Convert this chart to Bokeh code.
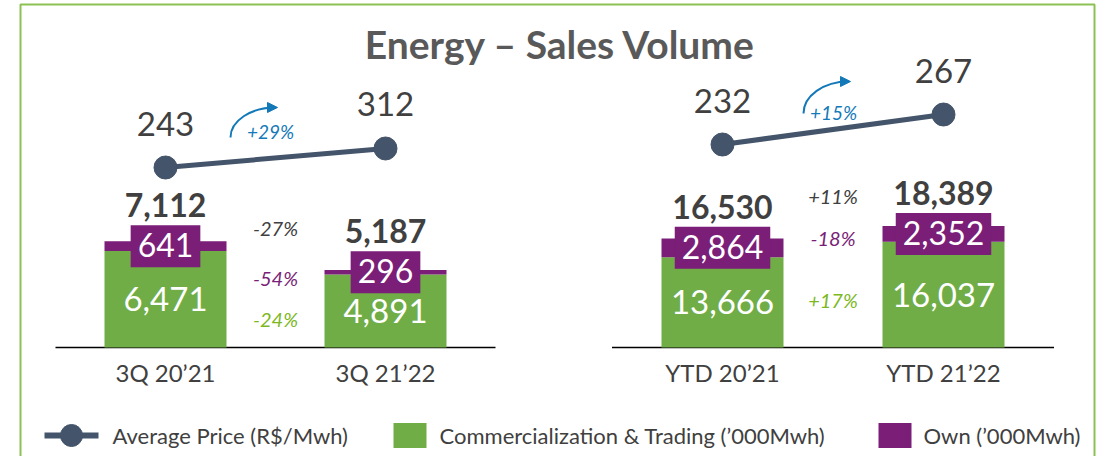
from bokeh.plotting import figure
from bokeh.models import Range1d, ColumnDataSource, Arrow, NormalHead, BoxAnnotation
from bokeh.core.properties import value
from bokeh.embed import file_html
from bokeh.resources import INLINE

# ---------------- data ----------------
title = "Energy – Sales Volume"

cats_q = ["3Q 20’21", "3Q 21’22"]
comm_q = [6471, 4891]
own_q = [641, 296]
total_q = [7112, 5187]
price_q = [243, 312]
chg_q = ["-27%", "-54%", "-24%"]          # total, own, commercialization
price_chg_q = "+29%"

cats_y = ["YTD 20’21", "YTD 21’22"]
comm_y = [13666, 16037]
own_y = [2864, 2352]
total_y = [16530, 18389]
price_y = [232, 267]
chg_y = ["+11%", "-18%", "+17%"]
price_chg_y = "+15%"

legend_labels = ["Average Price (R$/Mwh)",
                 "Commercialization & Trading (’000Mwh)",
                 "Own (’000Mwh)"]

# ---------------- style ----------------
W, H = 1097, 456
FONT = value("Lato")
GREEN = "#70AD47"
PURPLE = "#7A1E78"
SLATE = "#44546A"
DARK = "#404040"
LIME = "#7DB81E"
BLUE = "#1479B8"
BORDER = "#8CC152"
BASE = H - 347  # baseline height in px from bottom


def px(x):
    return x


def py(y):
    return H - y


def lin_range(anchor_px, anchor_val, per_px, size):
    start = anchor_val - anchor_px * per_px
    return Range1d(start=start, end=start + size * per_px)


p = figure(width=W, height=H, output_backend="svg", toolbar_location=None,
           x_range=Range1d(0, W), y_range=Range1d(0, H),
           x_axis_location=None, y_axis_location=None, min_border=0)
p.xgrid.visible = False
p.ygrid.visible = False
p.outline_line_color = None

panels = [
    dict(k="q", cats=cats_q, comm=comm_q, own=own_q, total=total_q, price=price_q,
         chg=chg_q, pchg=price_chg_q, x0=165, dx=220, vpp=67.0,
         pr=(H - 167, 243, 3.63), pct_off=[-120, -70, -29],
         arc=(275, 137, 45, 30), plab=(270, 131)),
    dict(k="y", cats=cats_y, comm=comm_y, own=own_y, total=total_y, price=price_y,
         chg=chg_y, pchg=price_chg_y, x0=722, dx=221, vpp=151.5,
         pr=(H - 144, 232, 1.167), pct_off=[-152, -110, -48],
         arc=(848, 113, 45, 32), plab=(833, 112)),
]

xr_all, yr_all = {}, {}
for pn in panels:
    k = pn["k"]
    xr_all["x_" + k] = Range1d(-pn["x0"] / pn["dx"], (W - pn["x0"]) / pn["dx"])
    yr_all["b_" + k] = lin_range(BASE, 0, pn["vpp"], H)
    yr_all["p_" + k] = lin_range(pn["pr"][0], pn["pr"][1], pn["pr"][2], H)
p.extra_x_ranges = xr_all
p.extra_y_ranges = yr_all

for pn in panels:
    k = pn["k"]
    xr, yb, yp = "x_" + k, "b_" + k, "p_" + k
    n = len(pn["cats"])
    bw = 122 / pn["dx"]
    src = ColumnDataSource(dict(
        x=list(range(n)),
        zero=[0] * n,
        cat=pn["cats"],
        comm=pn["comm"],
        own=pn["own"],
        total=pn["total"],
        top=[c + o for c, o in zip(pn["comm"], pn["own"])],
        comm_mid=[c / 2 for c in pn["comm"]],
        own_mid=[c + o / 2 for c, o in zip(pn["comm"], pn["own"])],
        price=pn["price"],
        comm_txt=[f"{v:,}" for v in pn["comm"]],
        own_txt=[f"{v:,}" for v in pn["own"]],
        total_txt=[f"{v:,}" for v in pn["total"]],
        price_txt=[f"{v}" for v in pn["price"]],
    ))
    # baseline
    p.segment(x0=-0.5, y0=0, x1=n - 0.5, y1=0, x_range_name=xr, y_range_name=yb,
              line_color="black", line_width=1.5)
    # stacked bars
    p.vbar(x="x", bottom="zero", top="comm", width=bw, source=src, fill_color=GREEN,
           line_color=None, x_range_name=xr, y_range_name=yb)
    p.vbar(x="x", bottom="comm", top="top", width=bw, source=src, fill_color=PURPLE,
           line_color=None, x_range_name=xr, y_range_name=yb)
    # bar labels
    p.text(x="x", y="comm_mid", text="comm_txt", source=src, x_range_name=xr, y_range_name=yb,
           text_align="center", text_baseline="middle", text_font=FONT,
           text_font_size="33px", text_color="white")
    p.text(x="x", y="own_mid", text="own_txt", source=src, x_range_name=xr, y_range_name=yb,
           text_align="center", text_baseline="middle", text_font=FONT,
           text_font_size="32px", text_color="white",
           background_fill_color=PURPLE, padding=dict(left=7, right=7, top=8, bottom=10))
    p.text(x="x", y="own_mid", text="total_txt", source=src, x_range_name=xr, y_range_name=yb,
           y_offset=-41, text_align="center", text_baseline="middle", text_font=FONT,
           text_font_size="32px", text_font_style="bold", text_color=DARK)
    # category labels
    p.text(x="x", y="zero", text="cat", source=src, x_range_name=xr, y_range_name=yb,
           y_offset=25, text_align="center", text_baseline="middle", text_font=FONT,
           text_font_size="24px", text_color=DARK)
    # percent changes
    for txt, off, col in zip(pn["chg"], pn["pct_off"], [DARK, PURPLE, LIME]):
        p.text(x=[(n - 1) / 2], y=[0], text=[txt], x_range_name=xr, y_range_name=yb,
               y_offset=off, text_align="center", text_baseline="middle", text_font=FONT,
               text_font_size="20px", text_font_style="italic", text_color=col)
    # price line
    p.line(x="x", y="price", source=src, x_range_name=xr, y_range_name=yp,
           line_color=SLATE, line_width=5)
    p.scatter(x="x", y="price", source=src, x_range_name=xr, y_range_name=yp,
              size=23, fill_color=SLATE, line_color=SLATE)
    p.text(x="x", y="price", text="price_txt", source=src, x_range_name=xr, y_range_name=yp,
           y_offset=-44, text_align="center", text_baseline="middle", text_font=FONT,
           text_font_size="33px", text_color=DARK)
    # price change arrow + label
    cx, cy, rx, ry = pn["arc"]
    cx, cy = px(cx), py(cy)
    kk = 0.5523
    p.bezier(x0=[cx - rx], y0=[cy], x1=[cx], y1=[cy + ry],
             cx0=[cx - rx], cy0=[cy + kk * ry], cx1=[cx - kk * rx], cy1=[cy + ry],
             line_color=BLUE, line_width=2)
    p.add_layout(Arrow(end=NormalHead(size=10, fill_color=BLUE, line_color=BLUE),
                       x_start=cx - 4, y_start=cy + ry, x_end=cx + 2, y_end=cy + ry,
                       line_color=BLUE, line_width=2))
    lx, ly = pn["plab"]
    p.text(x=[px(lx)], y=[py(ly)], text=[pn["pchg"]], text_align="center",
           text_baseline="middle", text_font=FONT, text_font_size="19px",
           text_font_style="italic", text_color=BLUE)

# title
p.text(x=[px(560)], y=[py(43)], text=[title], text_align="center", text_baseline="middle",
       text_font=FONT, text_font_size="39px", text_font_style="bold", text_color="#595959")

# legend
LY = py(435)
p.line(x=[px(44), px(98)], y=[LY, LY], line_color=SLATE, line_width=6)
p.scatter(x=[px(71)], y=[LY], size=22, fill_color=SLATE, line_color=SLATE)
p.rect(x=[px(409.5), px(894.5)], y=[LY, LY], width=33, height=25,
       fill_color=[GREEN, PURPLE], line_color=None)
p.text(x=[px(112), px(439), px(923)], y=[LY] * 3, text=legend_labels,
       text_align="left", text_baseline="middle", text_font=FONT,
       text_font_size="22px", text_color=DARK)

# frame border
p.add_layout(BoxAnnotation(left=px(20), right=px(1094), top=py(4), bottom=-20,
                           fill_alpha=0, line_color=BORDER, line_alpha=1, line_width=2))

open("out.html", "w").write(file_html(p, INLINE))
